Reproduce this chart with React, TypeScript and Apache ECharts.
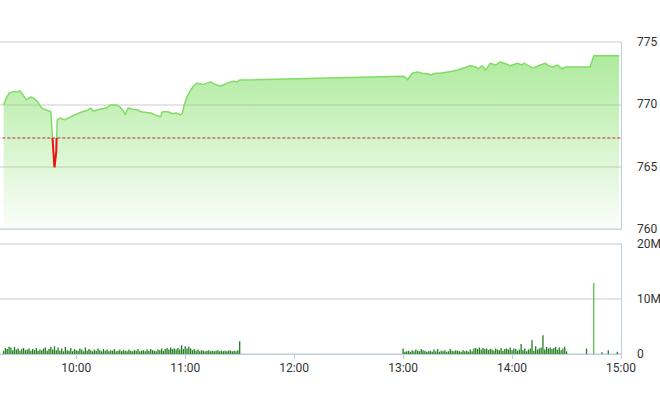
import React, { useEffect, useRef } from "react";
import * as echarts from "echarts";

// Price line: time in minutes since midnight, index value
const priceMinutes = [
  560, 561.5, 563, 565, 568, 569, 571, 572.5, 575, 576.5, 578.5, 581, 583.5, 586, 587, 588, 589, 589.5,
  591, 593.5, 597, 600, 603.5, 606.5, 608, 609.5, 611.5, 614, 616.5, 619, 622, 624, 626, 627, 628.5,
  631, 634, 635.5, 641, 643.5, 646.5, 647.5, 650.5, 653, 655, 657.5, 658.5, 659.5, 661, 663, 664.5,
  666.5, 670, 674, 676.5, 679.5, 683, 686.5, 688.5, 690,
  780, 781, 782.5, 785, 788, 790.5, 793.5, 795, 798, 800.5, 804.5, 807, 810, 813, 817, 820, 821.5,
  823.5, 825.5, 828, 831, 833.5, 836.5, 839, 843, 845.5, 846.5, 848.5, 851.5, 855.5, 858.5, 860,
  862.5, 865, 867.5, 870, 883, 885, 899,
];
const priceValues = [
  769.95, 770.5, 770.9, 771.0, 771.0, 771.1, 770.7, 770.35, 770.6, 770.5, 770.25, 769.7, 769.55, 769.4, 767.1, 764.95, 766.2, 768.75,
  768.9, 768.75, 769.0, 769.2, 769.4, 769.55, 769.7, 769.45, 769.55, 769.65, 769.7, 769.95, 769.95, 769.8, 769.45, 769.15, 769.7,
  769.6, 769.55, 769.4, 769.3, 769.15, 769.0, 769.4, 769.4, 769.25, 769.3, 769.15, 769.3, 769.95, 770.6, 771.15, 771.45,
  771.7, 771.6, 771.8, 771.6, 771.45, 771.7, 771.85, 771.8, 771.95,
  772.25, 772.2, 771.95, 772.5, 772.6, 772.5, 772.45, 772.35, 772.5, 772.5, 772.6, 772.65, 772.75, 772.9, 773.1, 773.0, 772.85,
  773.1, 772.75, 773.3, 773.15, 773.4, 773.25, 773.1, 773.3, 773.15, 773.3, 773.15, 772.9, 773.15, 773.3, 773.1,
  773.0, 773.15, 772.85, 773.0, 773.0, 773.9, 773.9,
];
const referencePrice = 767.3;
// Part of the line below the reference price (drawn red)
const dipMinutes = [586.9, 587, 588, 589, 589.15];
const dipValues = [767.3, 767.1, 764.95, 766.2, 767.3];

// Volume (millions) per minute; morning from 9:20, afternoon from 13:00
const morningStart = 560;
const morningVolume = [
  0.6, 1.1, 0.9, 1.3, 1.2, 0.7, 1.3, 0.8, 1.0, 0.6, 0.9, 1.1, 0.7, 0.8, 1.0, 0.6,
  0.9, 0.7, 1.1, 0.6, 0.8, 0.7, 1.0, 1.2, 0.6, 0.9, 1.3, 0.8, 1.4, 0.7, 1.2,
  0.6, 1.0, 0.5, 1.3, 0.7, 0.6, 1.1, 0.5, 0.9, 0.7, 0.6, 1.0, 0.8, 0.5, 1.2,
  0.6, 0.9, 0.7, 0.5, 0.8, 0.6, 1.0, 0.7, 0.5, 0.9, 0.6, 0.8, 0.5, 0.7, 0.6,
  0.9, 0.5, 0.6, 0.8, 0.5, 0.7, 0.6, 0.5, 0.8, 0.6, 0.5, 0.7, 0.6, 0.9, 0.5,
  0.6, 0.7, 0.5, 0.8, 0.6, 0.9, 0.7, 0.6, 0.5, 0.8, 0.7, 1.0, 0.6, 0.9, 1.1,
  0.8, 1.2, 0.9, 1.0, 0.8, 1.1, 0.8, 1.6, 0.9, 1.4, 1.0, 1.3, 1.0, 0.7, 0.9,
  0.6, 0.8, 0.5, 0.7, 0.6, 0.5, 0.6, 0.7, 0.5, 0.6, 0.5, 0.6, 0.7, 0.5, 0.6,
  0.5, 0.6, 0.5, 0.7, 0.6, 0.5, 0.6, 0.5, 0.7, 2.3,
];
const afternoonStart = 780;
const afternoonVolume = [
  1.0, 0.4, 0.5, 0.6, 0.4, 0.7, 0.5, 0.8, 0.6, 0.5, 0.9, 0.7, 0.6, 0.4, 0.5,
  0.6, 0.4, 0.8, 0.5, 0.9, 0.4, 0.6, 0.5, 0.7, 0.4, 0.5, 0.9, 0.6, 0.5, 0.7,
  0.6, 0.5, 0.4, 0.7, 0.5, 0.6, 0.4, 0.8, 0.5, 1.0, 1.1, 0.9, 1.2, 0.8, 1.1,
  0.9, 1.0, 0.7, 0.9, 0.8, 0.6, 1.0, 0.8, 0.7, 1.1, 0.6, 0.9, 1.0, 0.8, 1.2,
  0.7, 1.0, 0.9, 0.6, 0.8, 1.8, 0.7, 1.0, 0.5, 0.8, 1.0, 2.5, 0.6, 1.4, 0.8,
  1.0, 1.2, 3.4, 0.8, 1.3, 1.0, 1.2, 0.9, 1.1, 1.3, 0.8, 1.2, 0.7, 1.0, 1.3,
  0.5,
];
const lateMinutes = [881, 885, 889.5, 893, 898];
const lateVolume = [1.0, 12.9, 0.3, 0.7, 0.4];

const fmtTime = (v: number) => `${Math.floor(v / 60)}:${String(Math.round(v % 60)).padStart(2, "0")}`;

export default function App() {
  const ref = useRef<HTMLDivElement>(null);
  useEffect(() => {
    document.body.style.margin = "0";
    const chart = echarts.init(ref.current!, undefined, { renderer: "svg" });
    const priceData = priceMinutes.map((m, i) => [m, priceValues[i]]);
    const dipData = dipMinutes.map((m, i) => [m, dipValues[i]]);
    const volData: number[][] = [];
    morningVolume.forEach((v, i) => volData.push([morningStart + i, v]));
    afternoonVolume.forEach((v, i) => volData.push([afternoonStart + i, v]));
    lateMinutes.forEach((m, i) => volData.push([m, lateVolume[i]]));

    const axisBlue = "#bccde6";
    const splitGray = "#dcdcdc";
    const labelStyle = { color: "#333", fontSize: 12, fontFamily: "Roboto, Arial, sans-serif" };

    chart.setOption({
      animation: false,
      grid: [
        { left: -32.7, right: 39, top: 42, height: 187, outerBoundsMode: "none", containLabel: false },
        { left: -32.7, right: 39, top: 244, height: 110, outerBoundsMode: "none", containLabel: false },
      ],
      xAxis: [
        {
          type: "value", gridIndex: 0, min: 540, max: 900, interval: 60,
          axisLine: { show: true, lineStyle: { color: "#cdd6e2", width: 1 } },
          axisTick: { show: false }, axisLabel: { show: false }, splitLine: { show: false },
        },
        {
          type: "value", gridIndex: 1, min: 540, max: 900, interval: 60,
          axisLine: { show: true, lineStyle: { color: axisBlue, width: 1 } },
          axisTick: { show: true, length: 5, lineStyle: { color: axisBlue } },
          axisLabel: { ...labelStyle, margin: 8, showMinLabel: false, formatter: (v: number) => fmtTime(v) },
          splitLine: { show: false },
        },
      ],
      yAxis: [
        {
          type: "value", gridIndex: 0, position: "right", min: 760, max: 775, interval: 5,
          axisLine: { show: true, lineStyle: { color: axisBlue, width: 1 } },
          axisTick: { show: false },
          axisLabel: { ...labelStyle, margin: 16 },
          splitLine: { show: true, lineStyle: { color: splitGray, width: 1.5 } },
        },
        {
          type: "value", gridIndex: 1, position: "right", min: 0, max: 20, interval: 10,
          axisLine: { show: true, lineStyle: { color: axisBlue, width: 1 } },
          axisTick: { show: false },
          axisLabel: { ...labelStyle, margin: 16, formatter: (v: number) => (v === 0 ? "0" : `${v}M`) },
          splitLine: { show: true, lineStyle: { color: splitGray, width: 1.5 } },
        },
      ],
      series: [
        {
          type: "line", xAxisIndex: 0, yAxisIndex: 0, data: priceData,
          symbol: "none", lineStyle: { width: 1.5, color: "#80dc64" },
          areaStyle: {
            color: new echarts.graphic.LinearGradient(0, 0, 0, 1, [
              { offset: 0, color: "rgba(124,222,96,0.88)" },
              { offset: 1, color: "rgba(124,222,96,0.04)" },
            ]),
          },
        },
        {
          type: "line", xAxisIndex: 0, yAxisIndex: 0, data: dipData,
          symbol: "none", lineStyle: { width: 2, color: "#ee1111" },
        },
        {
          type: "line", xAxisIndex: 0, yAxisIndex: 0,
          data: [[540, referencePrice], [900, referencePrice]],
          symbol: "none", silent: true,
          lineStyle: { width: 1, color: "#c42a2a", type: [3, 2] },
        },
        {
          type: "bar", xAxisIndex: 1, yAxisIndex: 1, data: volData, barWidth: 1.3,
          itemStyle: { color: (p: any) => (p.value[1] > 5 ? "#5cbf4c" : "#1f7f1f") },
        },
      ],
    });
    return () => chart.dispose();
  }, []);
  return <div ref={ref} style={{ position: "absolute", left: 0, top: 0, width: 660, height: 412 }} />;
}
